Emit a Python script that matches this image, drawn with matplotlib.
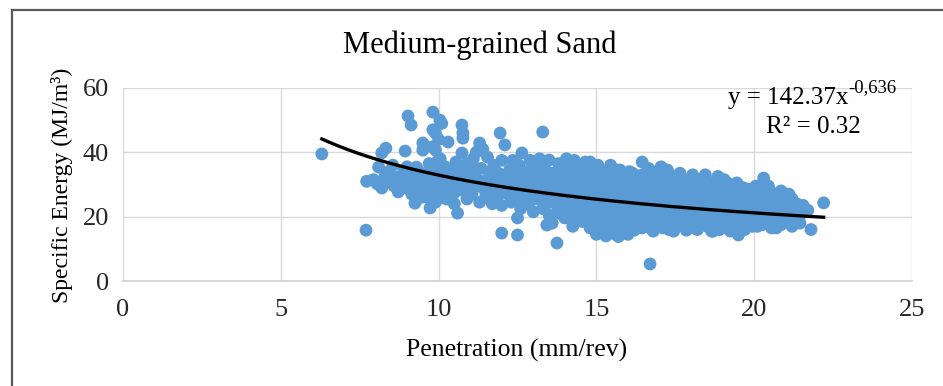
import numpy as np
import matplotlib
matplotlib.use("Agg")
import matplotlib.pyplot as plt
from matplotlib.lines import Line2D

# ---------------- data ----------------
penetration = [
    6.3, 7.7, 7.72, 7.93, 8.05,
    8.1, 8.2, 8.2, 8.33, 8.3, 8.4, 8.5, 8.55,
    8.68, 8.68, 8.72, 8.8, 8.87, 8.94, 8.9,
    9.03, 9.13, 9.1, 9.05, 9.15, 9.25, 9.3, 9.35, 9.2,
    9.5, 9.5, 9.45, 9.55, 9.6, 9.66, 9.73, 9.7, 9.65,
    9.82, 9.82, 9.9, 9.8, 9.9, 9.85, 9.95, 9.8, 9.9, 9.95,
    10.04, 10.1, 10.0, 10.05, 10.1, 10.15, 10.1, 10.2,
    10.3, 10.3, 10.4, 10.35, 10.45, 10.5, 10.55, 10.6, 10.5,
    10.74, 10.77, 10.77, 10.74, 10.7, 10.8, 10.85, 10.9, 10.95, 10.9,
    11.2, 11.3, 11.1, 11.05, 11.15, 11.25, 11.3, 11.35, 11.4, 11.45, 11.5, 11.55,
    11.6, 11.65, 11.7, 11.75, 11.8, 11.85, 11.9, 11.95, 11.95, 12.0, 12.0, 12.0,
    12.1, 12.15, 12.2, 12.25, 12.3, 12.35, 12.4, 12.45, 12.5, 12.5, 12.5, 12.55,
    12.64, 12.6, 12.7, 12.75, 12.8, 12.85, 12.9, 12.95, 13.0, 13.0, 13.05,
    13.1, 13.15, 13.2, 13.25, 13.3, 13.3, 13.35, 13.4, 13.43, 13.45, 13.5, 13.5,
    13.6, 13.6, 13.65, 13.7, 13.75, 13.75, 13.8, 13.85, 13.9, 13.95, 14.0, 14.0,
    14.05, 14.1, 14.15, 14.2, 14.25, 14.25, 14.3, 14.35, 14.4, 14.45, 14.5, 14.55, 14.6, 14.6,
    14.7, 14.75, 14.8, 14.8, 14.85, 14.9, 14.95, 15.0, 15.0, 15.05, 15.1, 15.15, 15.2, 15.2,
    15.3, 15.3, 15.35, 15.4, 15.45, 15.5, 15.5, 15.55, 15.6, 15.65, 15.7, 15.7, 15.75, 15.8,
    15.85, 15.9, 15.95, 16.0, 16.0, 16.05, 16.1, 16.15, 16.2, 16.2, 16.25, 16.3, 16.35,
    16.45, 16.4, 16.45, 16.5, 16.55, 16.6, 16.65, 16.7, 16.7, 16.75, 16.8, 16.86, 16.9, 16.95, 17.0,
    17.05, 17.1, 17.15, 17.2, 17.25, 17.3, 17.35, 17.4, 17.45, 17.5, 17.55, 17.6, 17.65, 17.7,
    17.75, 17.8, 17.85, 17.9, 17.95, 18.0, 18.05, 18.1, 18.15, 18.2, 18.25, 18.3, 18.35, 18.4, 18.45,
    18.5, 18.55, 18.6, 18.65, 18.7, 18.75, 18.8, 18.85, 18.9, 18.95, 19.0, 19.05, 19.1, 19.15, 19.2,
    19.25, 19.3, 19.35, 19.4, 19.45, 19.5, 19.5, 19.55, 19.6, 19.65, 19.7, 19.75, 19.8, 19.85, 19.9,
    19.95, 20.0, 20.05, 20.1, 20.15, 20.2, 20.3, 20.25, 20.3, 20.35, 20.4, 20.45, 20.5, 20.55, 20.6,
    20.65, 20.7, 20.75, 20.8, 20.85, 20.9, 20.95, 21.0, 21.05, 21.1, 21.15, 21.2, 21.3, 21.45, 21.7, 21.8, 22.2,
]
specific_energy = [
    39.5, 15.8, 31.0, 31.5, 30.2,
    35.4, 39.8, 28.9, 41.3, 32.5, 33.9, 30.5, 36.0,
    32.3, 28.9, 27.7, 30.0, 31.4, 40.4, 34.5,
    51.3, 48.5, 29.8, 33.0, 27.0, 24.2, 35.4, 27.4, 31.5,
    42.9, 40.7, 30.0, 33.5, 28.0, 32.3, 22.7, 36.5, 26.0,
    52.5, 47.0, 46.0, 41.7, 40.7, 34.0, 30.5, 27.5, 24.5, 37.0,
    50.0, 49.0, 44.0, 38.0, 32.5, 28.5, 26.0, 35.5,
    43.2, 34.5, 25.2, 30.0, 32.5, 27.5, 37.0, 21.1, 24.0,
    48.5, 46.0, 44.4, 39.8, 31.0, 28.0, 34.5, 25.5, 30.0, 36.5,
    40.1, 42.9, 38.0, 27.0, 32.5, 29.5, 24.5, 35.0, 41.0, 31.0, 26.5, 38.5,
    34.0, 28.5, 24.0, 36.0, 31.5, 26.0, 33.5, 46.0, 29.0, 14.9, 37.5, 23.5,
    42.3, 31.0, 27.0, 34.5, 24.5, 37.5, 29.5, 32.5, 19.6, 14.3, 26.0, 36.0,
    39.8, 22.5, 30.5, 27.5, 34.0, 24.0, 37.5, 31.0, 21.5, 28.0, 35.0,
    25.5, 32.5, 38.0, 29.0, 46.3, 22.5, 35.5, 26.5, 17.4, 31.5, 37.6, 20.5,
    18.0, 33.5, 27.5, 24.0, 11.8, 30.5, 36.5, 21.0, 33.0, 26.5, 19.6, 29.5,
    38.0, 23.5, 35.0, 31.5, 17.0, 27.0, 37.5, 21.0, 33.5, 25.0, 29.5, 18.5, 36.0, 22.5,
    32.0, 27.0, 16.5, 37.0, 24.0, 34.0, 20.0, 29.0, 14.5, 36.0, 22.5, 31.5, 17.5, 26.0,
    34.0, 14.0, 20.5, 28.5, 24.0, 32.0, 16.0, 18.5, 26.5, 30.0, 22.0, 13.8, 34.5, 16.5,
    28.0, 20.0, 32.0, 24.5, 14.5, 18.0, 29.5, 33.5, 22.0, 15.8, 26.5, 19.5, 31.0,
    37.0, 24.0, 16.5, 28.5, 33.0, 21.0, 18.0, 5.3, 26.0, 30.5, 15.5, 33.9, 23.0, 19.5, 28.0,
    31.5, 16.5, 25.0, 21.0, 33.0, 18.0, 28.5, 23.5, 15.5, 30.5, 20.0, 26.0, 32.0, 17.5,
    23.0, 29.0, 15.8, 20.5, 31.5, 25.5, 18.0, 28.0, 22.0, 16.0, 30.5, 24.5, 19.5, 27.5, 32.0,
    17.0, 22.5, 29.5, 25.5, 15.5, 20.0, 31.0, 27.0, 23.0, 17.5, 29.0, 20.5, 25.0, 30.5, 16.0,
    22.5, 27.5, 18.5, 29.5, 24.0, 14.3, 20.5, 26.5, 29.0, 17.5, 23.0, 27.0, 19.5, 25.0, 28.0,
    17.0, 22.0, 26.0, 19.0, 28.5, 24.0, 32.0, 17.5, 21.0, 26.5, 19.5, 24.5, 28.0, 16.5, 22.0,
    26.0, 19.0, 24.0, 27.5, 17.5, 21.5, 25.0, 18.5, 23.0, 27.0, 20.5, 17.0, 22.5, 18.0, 22.0, 16.0, 24.3,
]

# additional readings in the dense left part of the cloud
penetration_left = [
    8.6, 8.95, 9.0, 9.4, 9.45, 9.6, 9.75, 10.0, 10.2, 10.25,
    10.4, 10.6, 10.65, 10.85, 11.0, 11.1, 11.3, 11.45, 11.6, 11.7,
    11.9, 12.05, 12.2, 12.35, 12.45, 12.6, 12.7, 12.9, 13.1, 13.25,
    13.4, 13.55,
]
energy_left = [
    29.5, 29.0, 35.5, 33.0, 26.0, 30.0, 29.0, 27.0, 30.5, 25.5,
    28.5, 29.0, 34.0, 32.0, 29.0, 35.0, 31.0, 28.5, 26.0, 30.0,
    31.0, 29.0, 33.0, 27.5, 35.0, 33.5, 25.5, 27.0, 30.0, 33.5,
    24.0, 28.5,
]

# additional readings in the dense core of the cloud
penetration_core = [
    13.7, 13.8,
    13.9, 13.95, 14.0,
    14.1, 14.15, 14.2, 14.25,
    14.3, 14.35, 14.4, 14.45,
    14.5, 14.55, 14.6, 14.65,
    14.7, 14.75, 14.8, 14.85,
    14.9, 14.95, 15.0, 15.05,
    15.1, 15.12, 15.15, 15.2, 15.25,
    15.3, 15.32, 15.35, 15.4, 15.45,
    15.5, 15.52, 15.55, 15.6, 15.65,
    15.7, 15.72, 15.75, 15.8, 15.85,
    15.9, 15.92, 15.95, 16.0, 16.05,
    16.1, 16.12, 16.15, 16.2, 16.25,
    16.3, 16.32, 16.35, 16.4, 16.45,
    16.5, 16.52, 16.55, 16.6, 16.65,
    16.7, 16.72, 16.75, 16.8, 16.85,
    16.9, 16.92, 16.95, 17.0, 17.05,
    17.1, 17.12, 17.15, 17.2, 17.25,
    17.3, 17.32, 17.35, 17.4, 17.45,
    17.5, 17.52, 17.55, 17.6, 17.65,
    17.7, 17.72, 17.75, 17.8, 17.85,
    17.9, 17.92, 17.95, 18.0, 18.05,
    18.1, 18.12, 18.15, 18.2, 18.25,
    18.3, 18.32, 18.35, 18.4, 18.45,
    18.5, 18.52, 18.55, 18.6, 18.65,
    18.7, 18.72, 18.75, 18.8, 18.85,
    18.9, 18.92, 18.95, 19.0, 19.05,
    19.1, 19.15, 19.2, 19.25,
    19.3, 19.35, 19.4, 19.45,
    19.5, 19.55, 19.6, 19.65,
    19.7, 19.75, 19.8, 19.85,
    19.9, 19.95, 20.0, 20.05,
    20.1, 20.15, 20.2, 20.25,
    20.3, 20.35, 20.4, 20.45,
    20.5, 20.55, 20.6, 20.65,
    20.7, 20.75, 20.8, 20.85,
    20.9, 20.95, 21.0,
    21.1, 21.15, 21.2,
    21.3, 21.35, 21.4,
    21.5, 21.55,
]
energy_core = [
    31.5, 22.5,
    24.5, 35.0, 28.0,
    20.0, 29.0, 33.0, 25.5,
    23.0, 30.5, 35.5, 19.0,
    27.5, 32.5, 21.0, 37.0,
    18.5, 25.5, 30.0, 35.0,
    22.5, 27.5, 31.5, 17.0,
    19.5, 25.0, 28.0, 33.5, 15.5,
    17.5, 22.5, 26.5, 30.5, 36.0,
    20.5, 25.5, 28.5, 14.5, 34.5,
    18.0, 24.0, 28.0, 32.0, 15.0,
    16.0, 22.5, 26.0, 30.0, 34.0,
    20.0, 23.5, 27.5, 31.5, 16.5,
    17.0, 21.5, 25.0, 28.5, 33.0,
    19.0, 23.0, 26.5, 30.5, 35.0,
    16.5, 20.5, 24.5, 28.0, 32.0,
    17.5, 21.5, 26.0, 30.0, 35.5,
    19.0, 23.0, 27.0, 29.5, 34.5,
    16.0, 20.5, 24.5, 30.0, 32.5,
    17.5, 22.0, 26.5, 28.5, 33.5,
    19.0, 24.0, 27.0, 30.0, 16.0,
    17.5, 22.0, 25.0, 28.5, 33.0,
    16.5, 20.0, 24.0, 26.5, 31.0,
    17.5, 21.5, 26.0, 28.5, 33.0,
    19.0, 23.5, 27.0, 30.5, 15.5,
    17.0, 22.0, 25.0, 28.5, 32.5,
    16.0, 20.0, 25.5, 29.5, 31.5,
    18.0, 22.0, 27.0, 15.5,
    16.5, 20.5, 24.5, 30.5,
    18.0, 22.5, 27.0, 29.0,
    16.0, 20.5, 25.0, 28.5,
    18.5, 22.5, 26.5, 29.5,
    17.0, 21.0, 24.5, 27.5,
    18.5, 23.0, 27.5, 29.5,
    17.5, 20.5, 23.0, 26.0,
    16.5, 21.5, 23.5, 28.0,
    19.5, 23.0, 27.0,
    18.5, 22.0, 25.5,
    19.5, 24.0, 20.5,
    21.0, 23.5,
]

# power trendline parameters (as printed on the chart)
trend_a = 142.37
trend_b = -0.636
equation_text = "y = 142.37x"
exponent_text = "-0,636"
r2_text = "R\u00b2 = 0.32"

title = "Medium-grained Sand"
x_label = "Penetration (mm/rev)"
y_label = "Specific Energy (MJ/m\u00b3)"
x_ticks = [0, 5, 10, 15, 20, 25]
y_ticks = [0, 20, 40, 60]

# ---------------- figure ----------------
SERIF = ["Liberation Serif", "DejaVu Serif"]
plt.rcParams["font.family"] = SERIF

W, H = 943, 386
fig = plt.figure(figsize=(W / 100, H / 100), dpi=100)
fig.patch.set_facecolor("white")

ax = fig.add_axes([123 / W, 1 - 281 / H, (912 - 123) / W, (281 - 88) / H])
ax.set_xlim(0, 25)
ax.set_ylim(0, 60)
ax.set_xticks(x_ticks)
ax.set_yticks(y_ticks)
ax.grid(True, color="#D9D9D9", linewidth=1.0)
ax.set_axisbelow(True)
for side in ["top", "right", "left"]:
    ax.spines[side].set_visible(False)
ax.spines["bottom"].set_color("#D0D0D0")
ax.spines["bottom"].set_linewidth(1.2)
ax.tick_params(length=0, labelsize=19, labelcolor="#262626")
ax.tick_params(axis="x", pad=13)
ax.tick_params(axis="y", pad=10)

all_x = penetration + penetration_left + penetration_core
all_y = specific_energy + energy_left + energy_core
ax.scatter(all_x, all_y, s=85, color="#5B9BD5",
           edgecolors="none", zorder=3, clip_on=False)

xs = np.linspace(min(all_x), max(all_x), 200)
ax.plot(xs, trend_a * xs ** trend_b, color="black", linewidth=2.4, zorder=4)

# equation and R^2
t1 = ax.text(22.97, 55.0, equation_text, fontsize=18, ha="right",
             va="baseline", color="#000000", zorder=5)
ax.annotate(exponent_text, xy=(1, 0.6), xycoords=t1, fontsize=13.5,
            va="bottom", ha="left", color="#000000", zorder=5)
ax.text(21.86, 46.0, r2_text, fontsize=18, ha="center",
        va="baseline", color="#000000", zorder=5)

# titles / labels
fig.text(480 / W, 1 - 45 / H, title, fontsize=22, ha="center", va="center",
         color="#000000")
fig.text(517 / W, 1 - 350 / H, x_label, fontsize=18.5, ha="center",
         va="center", color="#000000")
fig.text(62 / W, 1 - 185 / H, y_label, fontsize=17, ha="center",
         va="center", rotation=90, color="#000000")

# outer chart border (top and left visible)
fig.add_artist(Line2D([12 / W, 12 / W], [0, 1 - 10 / H], transform=fig.transFigure,
                      color="#595959", linewidth=1.6))
fig.add_artist(Line2D([12 / W, 1], [1 - 10 / H, 1 - 10 / H], transform=fig.transFigure,
                      color="#595959", linewidth=1.6))

fig.savefig("out.png", dpi=100, facecolor="white")
